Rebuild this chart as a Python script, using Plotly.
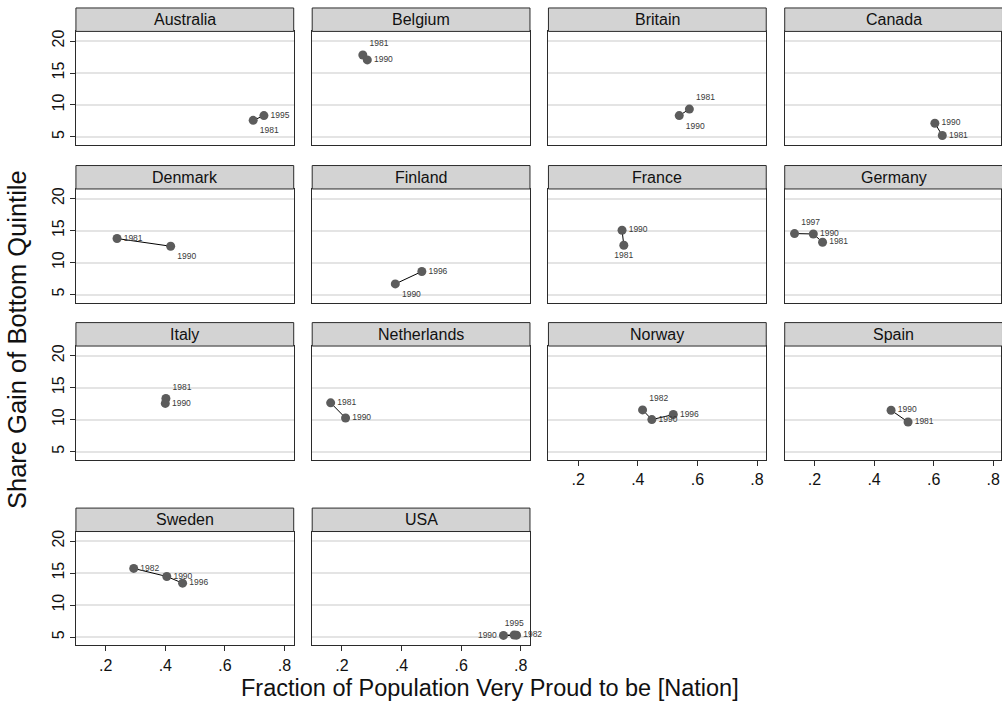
import plotly.graph_objects as go

# ---------------- data ----------------
countries = ["Australia", "Belgium", "Britain", "Canada",
             "Denmark", "Finland", "France", "Germany",
             "Italy", "Netherlands", "Norway", "Spain",
             "Sweden", "USA"]

years = [[1981, 1995], [1981, 1990], [1981, 1990], [1981, 1990],
         [1981, 1990], [1990, 1996], [1981, 1990], [1981, 1990, 1997],
         [1981, 1990], [1981, 1990], [1982, 1990, 1996], [1981, 1990],
         [1982, 1990, 1996], [1982, 1990, 1995]]

pride = [[0.695, 0.731], [0.270, 0.285], [0.573, 0.539], [0.629, 0.604],
         [0.238, 0.418], [0.379, 0.468], [0.353, 0.347], [0.227, 0.196, 0.133],
         [0.402, 0.400], [0.162, 0.212], [0.416, 0.447, 0.519], [0.514, 0.457],
         [0.294, 0.405, 0.458], [0.786, 0.742, 0.778]]

share = [[7.60, 8.34], [17.82, 17.05], [9.36, 8.34], [5.23, 7.14],
         [13.75, 12.55], [6.66, 8.60], [12.70, 15.05], [13.17, 14.47, 14.53],
         [13.30, 12.53], [12.62, 10.25], [11.52, 10.00, 10.79], [9.62, 11.47],
         [15.73, 14.47, 13.43], [5.30, 5.26, 5.32]]

x_tickvals = [0.2, 0.4, 0.6, 0.8]
x_ticktext = [".2", ".4", ".6", ".8"]
y_tickvals = [5, 10, 15, 20]
y_ticktext = ["5", "10", "15", "20"]

x_title = "Fraction of Population Very Proud to be [Nation]"
y_title = "Share Gain of Bottom Quintile"

# ---------------- style / layout ----------------
label_pos = [["bottom right", "middle right"], ["top right", "middle right"],
             ["top right", "bottom right"], ["middle right", "middle right"],
             ["middle right", "bottom right"], ["bottom right", "middle right"],
             ["bottom center", "middle right"], ["middle right", "middle right", "top right"],
             ["top right", "middle right"], ["middle right", "middle right"],
             ["top right", "middle right", "middle right"], ["middle right", "middle right"],
             ["middle right", "middle right", "middle right"],
             ["middle right", "middle left", "top center"]]

W, H = 1002, 716
COL_LEFT = [76, 312.5, 549, 785.5]
PANEL_W = 218
ROW_TOP = [29.5, 187.5, 345, 531]
PANEL_H = 114.2
HEAD_H = 23.5
XR = [0.1, 0.831]
YR = [3.7, 21.5]
FONT = "Liberation Sans, Arial, Helvetica, sans-serif"
AXC = "#2b2b2b"

px_per_unit = PANEL_W / (XR[1] - XR[0])
n = len(countries)
bottom_of_col = set()
for col in range(4):
    idx = [i for i in range(n) if i % 4 == col]
    bottom_of_col.add(max(idx))

fig = go.Figure()
shapes = []
annotations = []

for i, c in enumerate(countries):
    r, col = divmod(i, 4)
    left = COL_LEFT[col]
    right = left + PANEL_W
    xr = list(XR)
    if right > W:
        xr[1] = XR[0] + (W - left) / px_per_unit
        right_dom = 1.0
    else:
        right_dom = right / W
    top = ROW_TOP[r]
    k = "" if i == 0 else str(i + 1)

    show_x = i in bottom_of_col
    show_y = col == 0

    fig.add_trace(go.Scatter(
        x=pride[i], y=share[i], text=[str(y) for y in years[i]],
        mode="lines+markers+text",
        textposition=label_pos[i],
        textfont=dict(family=FONT, size=8.5, color="#3a3a3a"),
        line=dict(color="#000000", width=1),
        marker=dict(size=9, color="#5c5c5c"),
        cliponaxis=False, showlegend=False, hoverinfo="skip",
        xaxis="x" + k, yaxis="y" + k))

    fig.update_layout(**{
        "xaxis" + k: dict(
            domain=[left / W, right_dom], range=xr, anchor="y" + k,
            showgrid=False, zeroline=False,
            showline=True, mirror=True, linecolor=AXC, linewidth=1,
            tickvals=x_tickvals, ticktext=x_ticktext,
            ticks="outside" if show_x else "", ticklen=5, tickcolor=AXC,
            showticklabels=show_x,
            tickfont=dict(family=FONT, size=16, color="#111111")),
        "yaxis" + k: dict(
            domain=[1 - (top + PANEL_H) / H, 1 - top / H], range=YR,
            anchor="x" + k,
            showgrid=True, gridcolor="#e4e4e4", gridwidth=1.5, zeroline=False,
            showline=True, mirror=True, linecolor=AXC, linewidth=1,
            tickvals=y_tickvals, ticktext=y_ticktext,
            ticks="outside" if show_y else "", ticklen=5, tickcolor=AXC,
            showticklabels=show_y, tickangle=-90,
            tickfont=dict(family=FONT, size=16, color="#111111")),
    })

    # header strip
    shapes.append(dict(type="rect", xref="paper", yref="paper",
                       x0=left / W, x1=right / W,
                       y0=1 - top / H, y1=1 - (top - HEAD_H) / H,
                       fillcolor="#d3d3d3", line=dict(color=AXC, width=1),
                       layer="above"))
    annotations.append(dict(text=c, xref="paper", yref="paper",
                            x=(left + PANEL_W / 2) / W,
                            y=1 - (top - HEAD_H / 2) / H,
                            xanchor="center", yanchor="middle", showarrow=False,
                            font=dict(family=FONT, size=16, color="#111111")))

annotations.append(dict(text=x_title, xref="paper", yref="paper",
                        x=490 / W, y=1 - 688 / H, xanchor="center",
                        yanchor="middle", showarrow=False,
                        font=dict(family=FONT, size=23.5, color="#111111")))
annotations.append(dict(text=y_title, xref="paper", yref="paper",
                        x=17 / W, y=1 - 338 / H, xanchor="center",
                        yanchor="middle", showarrow=False, textangle=-90,
                        font=dict(family=FONT, size=25.5, color="#111111")))

fig.update_layout(width=W, height=H, margin=dict(l=0, r=0, t=0, b=0),
                  paper_bgcolor="white", plot_bgcolor="white",
                  shapes=shapes, annotations=annotations,
                  font=dict(family=FONT))

fig.write_html("out.html")
